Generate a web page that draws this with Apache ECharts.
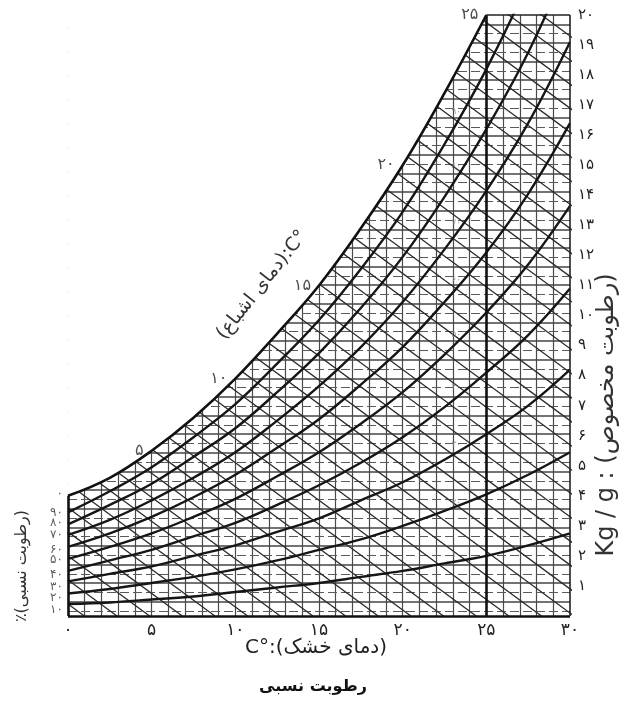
<!DOCTYPE html>
<html>
<head>
<meta charset="utf-8">
<script src="https://cdn.jsdelivr.net/npm/echarts@6/dist/echarts.min.js"></script>
<style>
  html, body { margin: 0; padding: 0; background: #fff; }
  #chart { width: 625px; height: 701px; }
</style>
</head>
<body>
<div id="chart"></div>
<script>
// دمای خشک (°C) نقاط منحنی‌های رطوبت نسبی
var tempSteps = [0, 2.5, 5, 7.5, 10, 12.5, 15, 17.5, 20, 22.5, 25, 27.5, 30];

// منحنی اشباع (۱۰۰٪) - رطوبت مخصوص g/kg
var satTemps = [0, 2.5, 5, 7.5, 10, 12.5, 15, 17.5, 20, 22.5, 25];
var satMoisture = [4.0, 4.6, 5.5, 6.6, 7.9, 9.4, 11.0, 12.9, 15.0, 17.4, 20.0];

// منحنی‌های رطوبت نسبی ۱۰٪ تا ۹۰٪ (g/kg در tempSteps)
var rh10 = [0.40, 0.45, 0.55, 0.65, 0.80, 0.95, 1.10, 1.30, 1.50, 1.75, 2.00, 2.35, 2.75];
var rh20 = [0.75, 0.90, 1.10, 1.30, 1.55, 1.85, 2.20, 2.55, 3.00, 3.50, 4.05, 4.70, 5.45];
var rh30 = [1.15, 1.40, 1.65, 2.00, 2.35, 2.80, 3.25, 3.85, 4.45, 5.20, 6.05, 7.00, 8.20];
var rh40 = [1.50, 1.85, 2.20, 2.65, 3.10, 3.70, 4.35, 5.10, 5.95, 6.95, 8.10, 9.35, 10.9];
var rh50 = [1.90, 2.30, 2.75, 3.30, 3.90, 4.65, 5.45, 6.40, 7.45, 8.70, 10.1, 11.7, 13.65];
var rh60 = [2.30, 2.75, 3.30, 3.95, 4.70, 5.60, 6.55, 7.70, 8.95, 10.45, 12.1, 14.05, 16.4];
var rh70 = [2.70, 3.20, 3.85, 4.60, 5.45, 6.50, 7.65, 8.95, 10.45, 12.2, 14.15, 16.4, 19.1];
var rh80 = [3.05, 3.70, 4.40, 5.30, 6.25, 7.45, 8.75, 10.25, 11.95, 13.95, 16.2, 18.75, 21.85];
var rh90 = [3.45, 4.15, 4.95, 5.95, 7.05, 8.40, 9.85, 11.55, 13.45, 15.7, 18.2, 21.1, 24.6];
var rhCurves = [rh10, rh20, rh30, rh40, rh50, rh60, rh70, rh80, rh90];

// برچسب‌های رطوبت نسبی در لبه چپ
var rhLabels = ['۱۰', '۲۰', '۳۰', '۴۰', '۵۰', '۶۰', '۷۰', '۸۰', '۹۰', '۰'];
var rhLabelMoisture = [0.2, 0.6, 0.97, 1.37, 1.87, 2.2, 2.7, 3.1, 3.43, 4.05];

// برچسب‌های دمای اشباع روی منحنی
var satLabelTemps = [5, 10, 15, 20, 25];
var satLabelMoisture = [5.5, 7.9, 11.0, 15.0, 20.0];
var satLabels = ['۵', '۱۰', '۱۵', '۲۰', '۲۵'];

// خطوط مورب (دمای مرطوب): رطوبت در ۰°C و شیب g/kg بر °C
var diagIntercepts = [31.6, 30.8, 30, 29.2, 28.4, 27.6, 26.8, 26, 25.2, 24.4, 23.6, 22.8, 22, 21.2,
  20.4, 19.6, 18.8, 18, 17.2, 16.4, 15.6, 14.8, 14, 13.2, 12.4, 11.6, 10.8, 10, 9.2, 8.4,
  7.6, 6.8, 6, 5.2, 4.4, 3.6, 2.8, 2, 1.2, 0.4];
var diagSlope = 0.41;

// برچسب‌های کم‌رنگ داخل نمودار
var faintLabels = ['۱۰', '۲۰', '۳۰', '۴۰', '۵۰', '۶۰', '۷۰', '۸۰', '۹۰'];
var faintMoisture = [2.03, 3.77, 5.7, 7.63, 9.37, 11.2, 13.1, 15.0, 16.8];
var faintTemp = 23.2;

// برچسب محورها
var xTickLabels = ['۰', '۵', '۱۰', '۱۵', '۲۰', '۲۵', '۳۰'];
var yTickLabels = ['', '۱', '۲', '۳', '۴', '۵', '۶', '۷', '۸', '۹', '۱۰',
  '۱۱', '۱۲', '۱۳', '۱۴', '۱۵', '۱۶', '۱۷', '۱۸', '۱۹', '۲۰'];

var FONT = "'DejaVu Sans', 'Noto Sans', sans-serif";

var chart = echarts.init(document.getElementById('chart'));

// خطوط افقی شبکه (خط‌چین و پیوسته)
var hStep = 0.62;
var dashedRows = [], solidRows = [];
for (var j = 1; j <= 32; j++) {
  var w = 20 - hStep * j;
  if (w > 0.05) dashedRows.push({ coords: [[0, w], [30, w]] });
  var w2 = 20 - hStep * (j - 0.5);
  if (w2 > 0.05) solidRows.push({ coords: [[0, w2], [30, w2]] });
}
// خطوط عمودی شبکه هر یک درجه
var gridCols = [];
for (var t = 1; t < 30; t++) {
  if (t === 25) continue;
  gridCols.push({ coords: [[t, 0], [t, t < 25 ? 19.9 : 20]] });
}

var diagLines = diagIntercepts.map(function (c) {
  return { coords: [[0, c], [c / diagSlope, 0]] };
});

var series = [
  {
    type: 'lines', coordinateSystem: 'cartesian2d', silent: true, z: 1, clip: true,
    lineStyle: { color: '#4a4a4a', width: 1.2, opacity: 1 },
    data: gridCols
  },
  {
    type: 'lines', coordinateSystem: 'cartesian2d', silent: true, z: 1, clip: true,
    lineStyle: { color: '#5a5a5a', width: 1.1, type: [9, 4], opacity: 1 },
    data: dashedRows
  },
  {
    type: 'lines', coordinateSystem: 'cartesian2d', silent: true, z: 1, clip: true,
    lineStyle: { color: '#444', width: 1.5, opacity: 1 },
    data: solidRows
  },
  {
    type: 'lines', coordinateSystem: 'cartesian2d', silent: true, z: 1, clip: true,
    lineStyle: { color: '#2a2a2a', width: 1.3, opacity: 1 },
    data: diagLines
  },
  {
    // منحنی اشباع با پوشش سفید بالای آن
    type: 'line', silent: true, z: 3, symbol: 'none', smooth: 0.4,
    data: satTemps.map(function (t, i) { return [t, satMoisture[i]]; }),
    lineStyle: { color: '#111', width: 2.6 },
    areaStyle: { origin: 'end', color: '#fff', opacity: 1 }
  }
];

rhCurves.forEach(function (vals) {
  series.push({
    type: 'line', silent: true, z: 4, symbol: 'none', smooth: 0.4, clip: true,
    data: tempSteps.map(function (t, i) { return [t, vals[i]]; }),
    lineStyle: { color: '#161616', width: 2.4 }
  });
});

// قاب نمودار
series.push({
  type: 'lines', coordinateSystem: 'cartesian2d', silent: true, z: 5, clip: false,
  lineStyle: { color: '#111', width: 2.6, opacity: 1 },
  data: [
    { coords: [[0, 0], [30, 0]] },
    { coords: [[0, 0], [0, satMoisture[0]]] },
    { coords: [[25, 0], [25, 20]] }
  ]
});
series.push({
  type: 'lines', coordinateSystem: 'cartesian2d', silent: true, z: 5, clip: false,
  lineStyle: { color: '#222', width: 1.6, opacity: 1 },
  data: [
    { coords: [[30, 0], [30, 20]] },
    { coords: [[25, 20], [30, 20]] }
  ]
});

// برچسب‌ها
series.push({
  type: 'scatter', silent: true, z: 6, symbolSize: 0, clip: false,
  data: rhLabelMoisture.map(function (w, i) { return { value: [0, w], name: rhLabels[i] }; }),
  label: {
    show: true, position: 'left', distance: 5, formatter: '{b}',
    fontFamily: FONT, fontSize: 12, color: '#333'
  }
});
series.push({
  type: 'scatter', silent: true, z: 6, symbolSize: 0, clip: false,
  data: satLabelTemps.map(function (t, i) { return { value: [t, satLabelMoisture[i]], name: satLabels[i] }; }),
  label: {
    show: true, position: 'left', distance: 8, offset: [0, 0], formatter: '{b}',
    fontFamily: FONT, fontSize: 16, color: '#222'
  }
});
series.push({
  type: 'scatter', silent: true, z: 6, symbolSize: 0, clip: false,
  data: faintMoisture.map(function (w, i) { return { value: [faintTemp, w], name: faintLabels[i] }; }),
  label: {
    show: true, position: 'inside', formatter: '{b}',
    fontFamily: FONT, fontSize: 9, color: '#8a8a8a'
  }
});

var option = {
  animation: false,
  backgroundColor: '#fff',
  grid: { left: 68, right: 55, top: 15, bottom: 85 },
  xAxis: {
    type: 'value', min: 0, max: 30, interval: 5,
    axisLine: { show: false }, axisTick: { show: false },
    splitLine: { show: false },
    axisLabel: {
      margin: 6, fontFamily: FONT, fontSize: 17, color: '#222',
      formatter: function (v) { return xTickLabels[Math.round(v / 5)]; }
    }
  },
  yAxis: {
    type: 'value', min: 0, max: 20, interval: 1, position: 'right',
    axisLine: { show: false }, axisTick: { show: false },
    splitLine: { show: false },
    axisLabel: {
      margin: 8, fontFamily: FONT, fontSize: 15, color: '#222',
      formatter: function (v) { return yTickLabels[Math.round(v)]; }
    }
  },
  series: series,
  graphic: [
    {
      // پوشش باریک بالای قاب، زیر منحنی‌ها و برچسب‌ها
      type: 'rect', z: 2, silent: true,
      shape: { x: 55, y: 0, width: 430, height: 15.5 },
      style: { fill: '#fff' }
    },
    {
      type: 'text', x: 316, y: 648, z: 10,
      style: { text: 'C°:(دمای خشک)', font: '20px ' + FONT, fill: '#222', textAlign: 'center', textVerticalAlign: 'middle' }
    },
    {
      type: 'text', x: 313, y: 687, z: 10,
      style: { text: 'رطوبت نسبی', font: 'bold 16px ' + FONT, fill: '#111', textAlign: 'center', textVerticalAlign: 'middle' }
    },
    {
      type: 'text', x: 22, y: 566, rotation: Math.PI / 2, z: 10,
      style: { text: '٪(رطوبت نسبی)', font: '16px ' + FONT, fill: '#333', textAlign: 'center', textVerticalAlign: 'middle' }
    },
    {
      type: 'text', x: 607, y: 415, rotation: Math.PI / 2, z: 10,
      style: { text: 'Kg / g : (رطوبت مخصوص)', font: '24px ' + FONT, fill: '#333', textAlign: 'center', textVerticalAlign: 'middle' }
    },
    {
      type: 'text', x: 262, y: 285, rotation: 51.6 * Math.PI / 180, z: 10,
      style: { text: '(دمای اشباع):C°', font: '19px ' + FONT, fill: '#333', textAlign: 'center', textVerticalAlign: 'middle' }
    }
  ]
};

chart.setOption(option);
</script>
</body>
</html>
